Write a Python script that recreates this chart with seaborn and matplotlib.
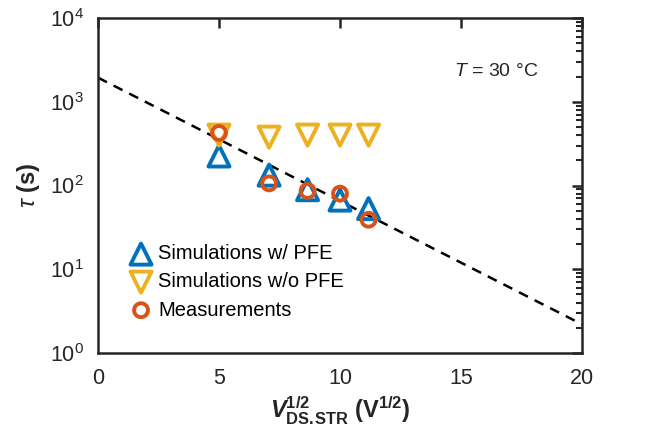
import matplotlib
matplotlib.use("Agg")
import matplotlib.pyplot as plt
import seaborn as sns
import numpy as np
import pandas as pd
from matplotlib.ticker import LogLocator, LogFormatterMathtext, NullFormatter, MultipleLocator

# ---- data ----
x_vals = [5.0, 7.07, 8.66, 10.0, 11.18]
tau_sim_pfe = [225, 133, 89, 67, 53]
tau_sim_nopfe = [400, 378, 400, 400, 400]
tau_meas = [424, 106, 86, 80, 39]
fit_x = [0, 20]
fit_tau = [1940, 2.2]

labels = ["Simulations w/ PFE", "Simulations w/o PFE", "Measurements"]
colors = ["#0072BD", "#EDB120", "#D95319"]

sns.set_theme(style="white")
plt.rcParams["font.family"] = ["Liberation Sans", "DejaVu Sans"]
plt.rcParams["mathtext.fontset"] = "custom"
plt.rcParams["mathtext.rm"] = "Liberation Sans"
plt.rcParams["mathtext.it"] = "Liberation Sans:italic"
plt.rcParams["mathtext.bf"] = "Liberation Sans:bold"
plt.rcParams["mathtext.bfit"] = "Liberation Sans:bold:italic"

fig = plt.figure(figsize=(6.58, 4.37), dpi=100)
ax = fig.add_axes([98/658, 1-353/437, (582-98)/658, (353-18)/437])

df_fit = pd.DataFrame({"x": fit_x, "tau": fit_tau})
sns.lineplot(data=df_fit, x="x", y="tau", ax=ax, color="black",
             linestyle=(0, (4, 3)), linewidth=1.8, zorder=2)

df1 = pd.DataFrame({"x": x_vals, "tau": tau_sim_pfe})
df2 = pd.DataFrame({"x": x_vals, "tau": tau_sim_nopfe})
df3 = pd.DataFrame({"x": x_vals, "tau": tau_meas})

sns.scatterplot(data=df1, x="x", y="tau", ax=ax, marker="^", s=230,
                facecolor="none", edgecolor=colors[0], linewidth=2.8,
                label=labels[0], zorder=3)
sns.scatterplot(data=df2, x="x", y="tau", ax=ax, marker="v", s=230,
                facecolor="none", edgecolor=colors[1], linewidth=2.8,
                label=labels[1], zorder=3)
sns.scatterplot(data=df3, x="x", y="tau", ax=ax, marker="o", s=100,
                facecolor="none", edgecolor=colors[2], linewidth=2.8,
                label=labels[2], zorder=4)

ax.set_yscale("log")
ax.set_xlim(0, 20)
ax.set_ylim(1, 1e4)
ax.xaxis.set_major_locator(MultipleLocator(5))
ax.yaxis.set_major_locator(LogLocator(base=10, numticks=10))
ax.yaxis.set_minor_locator(LogLocator(base=10, subs=np.arange(2, 10), numticks=10))
ax.yaxis.set_major_formatter(LogFormatterMathtext())
ax.yaxis.set_minor_formatter(NullFormatter())

for sp in ax.spines.values():
    sp.set_linewidth(1.8)
    sp.set_color("#262626")
ax.tick_params(which="both", direction="in", top=True, right=True,
               colors="#262626", labelcolor="#262626")
ax.tick_params(which="major", length=7, width=1.8, labelsize=15.5)
ax.tick_params(axis="x", which="major", pad=11)
ax.tick_params(axis="y", which="major", pad=10)
ax.tick_params(which="minor", length=4, width=1.5)

ax.set_xlabel(r"$\mathbfit{V}^{\mathbf{1/2}}_{\mathbf{DS.\!STR}}$ $\mathbf{(V^{1/2})}$",
              fontsize=17, labelpad=4, color="#262626")
ax.set_ylabel(r"$\tau$ $\mathbf{(s)}$", fontsize=17, labelpad=6, color="#262626")

ax.text(0.735, 0.84, r"$\mathit{T}$ = 30 °C", transform=ax.transAxes,
        fontsize=14, color="#262626", va="center", ha="left")

leg = ax.legend(loc="lower left", bbox_to_anchor=(0.066, 0.10), frameon=False,
                fontsize=14.5, handletextpad=0.3, labelspacing=0.45,
                borderaxespad=0, borderpad=0, handlelength=1.1)
for t in leg.get_texts():
    t.set_color("black")

fig.savefig("out.png", dpi=100)
